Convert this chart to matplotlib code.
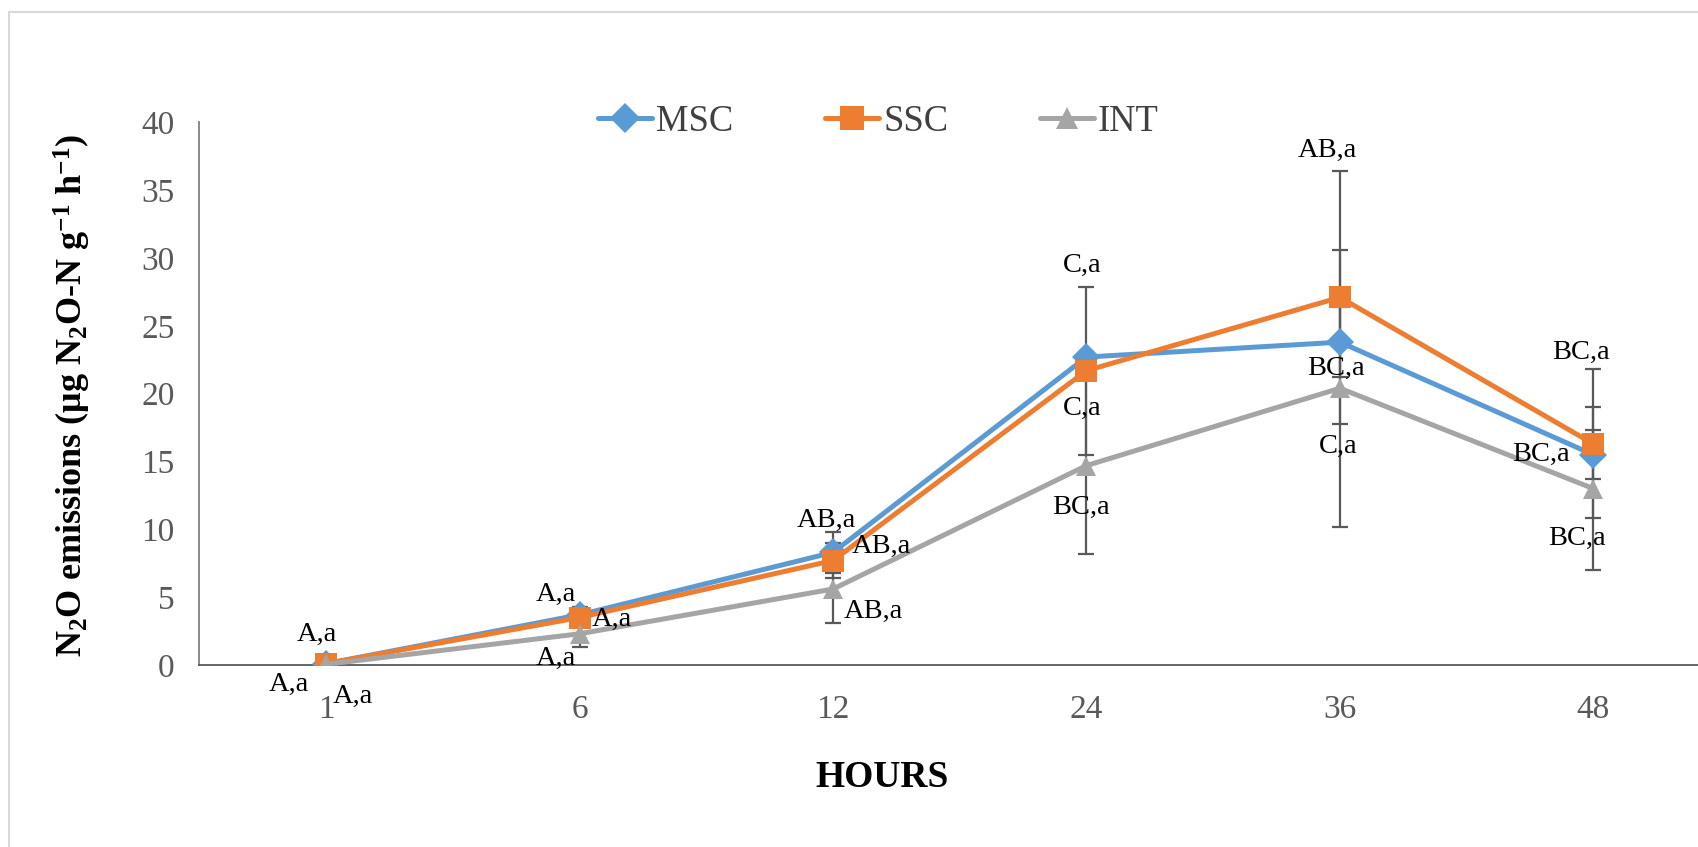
import matplotlib

matplotlib.use("Agg")
import matplotlib.pyplot as plt
from matplotlib.patches import Rectangle

plt.rcParams["font.family"] = ["Liberation Serif", "DejaVu Serif"]
plt.rcParams["mathtext.default"] = "regular"

hours = ["1", "6", "12", "24", "36", "48"]

msc = [0.1, 3.7, 8.3, 22.7, 23.8, 15.5]
ssc = [0.1, 3.5, 7.7, 21.7, 27.1, 16.3]
inte = [0.05, 2.3, 5.6, 14.7, 20.4, 13.0]

msc_err = [0.1, 0.6, 1.5, 0.4, 2.6, 1.8]
ssc_err = [0.1, 0.5, 1.3, 6.2, 9.3, 5.5]
int_err = [0.05, 1.0, 2.5, 6.5, 10.2, 6.0]

msc_lbl = ["A,a", "A,a", "AB,a", "C,a", "BC,a", "BC,a"]
ssc_lbl = ["A,a", "A,a", "AB,a", "C,a", "AB,a", "BC,a"]
int_lbl = ["A,a", "A,a", "AB,a", "BC,a", "C,a", "BC,a"]

# label offsets from the marker, in points
msc_off = [(-7, 21), (-17, 15), (-5, 23), (-3, 66), (-3, -19), (-38, 0)]
ssc_off = [(-27, -15), (23, -1.5), (35, 10), (-3, -27), (-9, 106), (-9, 66)]
int_off = [(19, -23), (-17, -18), (29, -16), (-4, -30), (-1, -42), (-12, -36)]

series = [
    ("MSC", msc, msc_err, msc_lbl, msc_off, "#5B9BD5", "D", 14),
    ("SSC", ssc, ssc_err, ssc_lbl, ssc_off, "#ED7D31", "s", 16),
    ("INT", inte, int_err, int_lbl, int_off, "#A5A5A5", "^", 15),
]

fig = plt.figure(figsize=(16.99, 8.47), dpi=100)
ax = fig.add_axes([0.1174, 0.2149, 0.895, 0.6406])
x = list(range(len(hours)))

for name, vals, err, lbls, offs, color, mk, ms in series:
    ax.errorbar(x, vals, yerr=err, fmt="none", ecolor="#595959",
                elinewidth=1.6, capsize=6, capthick=1.6, zorder=1)

for i, (name, vals, err, lbls, offs, color, mk, ms) in enumerate(series):
    ax.plot(x, vals, color=color, lw=3.6, marker=mk, markersize=ms,
            markeredgewidth=0, label=name, zorder=3 + i, solid_capstyle="round")

for name, vals, err, lbls, offs, color, mk, ms in series:
    for xi, v, t, o in zip(x, vals, lbls, offs):
        ax.annotate(t, (xi, v), xytext=o, textcoords="offset points",
                    ha="center", va="center", fontsize=20.5, color="black", zorder=10)

ax.set_xlim(-0.5, 5.5)
ax.set_ylim(0, 40)
ax.set_yticks(range(0, 41, 5))
ax.set_xticks(x)
ax.set_xticklabels(hours)
ax.tick_params(axis="both", length=0, labelsize=24, labelcolor="#595959")
ax.tick_params(axis="x", pad=21)
ax.tick_params(axis="y", pad=18)

for s in ["top", "right"]:
    ax.spines[s].set_visible(False)
ax.spines["left"].set_color("#7F7F7F")
ax.spines["left"].set_linewidth(1.3)
ax.spines["bottom"].set_color("#595959")
ax.spines["bottom"].set_linewidth(1.3)

ax.set_xlabel("HOURS", fontsize=27, fontweight="bold")
ax.xaxis.set_label_coords(0.449, -0.176)
ax.set_ylabel("N$_2$O emissions (μg N$_2$O-N g$^{-1}$ h$^{-1}$)", fontsize=26, fontweight="bold")
ax.yaxis.set_label_coords(-0.070, 0.497)

fig.legend(loc="center", bbox_to_anchor=(0.517, 0.856), ncol=3, frameon=False,
           fontsize=26.3, handlelength=1.48, handletextpad=0.11, columnspacing=2.5,
           labelcolor="#404040", markerscale=1.1)

fig.add_artist(Rectangle((9 / 1699, -0.1), 1.2, 1.1 - 12 / 847, transform=fig.transFigure,
                         fill=False, edgecolor="#D9D9D9", linewidth=1.5))

fig.savefig("out.png", dpi=100)
